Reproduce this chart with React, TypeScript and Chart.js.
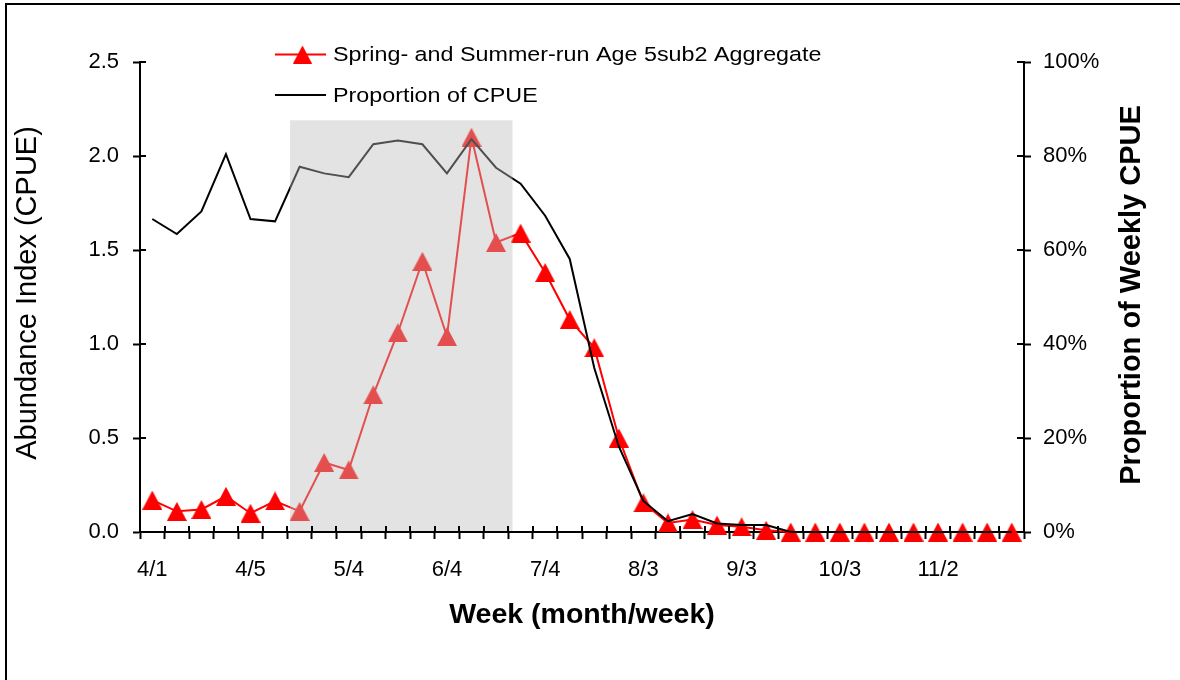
import React, { useEffect, useRef } from 'react';
import { Chart, registerables } from 'chart.js';

Chart.register(...registerables);

// ---- data ----
const weeks = [
  '4/1', '4/2', '4/3', '4/4', '4/5',
  '5/1', '5/2', '5/3', '5/4',
  '6/1', '6/2', '6/3', '6/4',
  '7/1', '7/2', '7/3', '7/4', '7/5',
  '8/1', '8/2', '8/3', '8/4',
  '9/1', '9/2', '9/3', '9/4',
  '10/1', '10/2', '10/3', '10/4', '10/5',
  '11/1', '11/2', '11/3', '11/4',
  '12/1',
];
const shownWeekLabels = ['4/1', '4/5', '5/4', '6/4', '7/4', '8/3', '9/3', '10/3', '11/2'];

const abundanceIndex = [
  0.17, 0.11, 0.12, 0.19, 0.1,
  0.165, 0.11, 0.37, 0.33,
  0.73, 1.06, 1.44, 1.04,
  2.1, 1.54, 1.59, 1.38, 1.13,
  0.98, 0.5, 0.155, 0.048,
  0.066, 0.037, 0.028, 0.009,
  0, 0, 0, 0, 0,
  0, 0, 0, 0,
  0,
];
const proportionOfCpue = [
  0.666, 0.634, 0.682, 0.804, 0.666,
  0.661, 0.777, 0.763, 0.755,
  0.825, 0.833, 0.825, 0.763,
  0.836, 0.775, 0.741, 0.673, 0.581,
  0.349, 0.182, 0.066, 0.023,
  0.038, 0.018, 0.015, 0.015,
  0, 0, 0, 0, 0,
  0, 0, 0, 0,
  0,
];
const abundanceTicks = [0, 0.5, 1.0, 1.5, 2.0, 2.5];
const proportionTicks = [0, 0.2, 0.4, 0.6, 0.8, 1.0];

const seriesNames = ['Spring- and Summer-run Age 5sub2 Aggregate', 'Proportion of CPUE'];
const axisTitles = {
  x: 'Week (month/week)',
  y: 'Abundance Index (CPUE)',
  y1: 'Proportion of Weekly CPUE',
};

// shaded period (in category-index units) and its top (abundance units)
const SHADE_FROM = 5.61;
const SHADE_TO = 14.67;
const SHADE_TOP = 2.19;

const FONT = '"Liberation Sans", Arial, Helvetica, sans-serif';
const W = 1180;
const H = 680;

function makeTriangle(w: number, h: number, color: string) {
  const c = document.createElement('canvas');
  c.width = w;
  c.height = h;
  const ctx = c.getContext('2d')!;
  ctx.fillStyle = color;
  ctx.beginPath();
  ctx.moveTo(w / 2, 0);
  ctx.lineTo(w, h);
  ctx.lineTo(0, h);
  ctx.closePath();
  ctx.fill();
  return c;
}

export default function App() {
  const ref = useRef<HTMLCanvasElement | null>(null);

  useEffect(() => {
    const canvas = ref.current;
    if (!canvas) return;
    const marker = makeTriangle(20, 19, '#ff0000');
    const legendMarker = makeTriangle(19, 18, '#ff0000');

    const decor = {
      id: 'decor',
      beforeDraw(chart: any) {
        const ctx = chart.ctx;
        ctx.save();
        ctx.fillStyle = '#ffffff';
        ctx.fillRect(0, 0, chart.width, chart.height);
        ctx.restore();
      },
      afterDatasetsDraw(chart: any) {
        const ctx = chart.ctx;
        const x = chart.scales.x;
        const y = chart.scales.y;
        const x0 = x.getPixelForValue(SHADE_FROM);
        const x1 = x.getPixelForValue(SHADE_TO);
        const yTop = y.getPixelForValue(SHADE_TOP);
        const yBot = y.getPixelForValue(0) - 1;
        ctx.save();
        ctx.fillStyle = 'rgba(189,189,189,0.42)';
        ctx.fillRect(x0, yTop, x1 - x0, yBot - yTop);
        ctx.restore();
      },
      afterDraw(chart: any) {
        const ctx = chart.ctx;
        const area = chart.chartArea;
        const sy = chart.scales.y;
        const sy1 = chart.scales.y1;
        ctx.save();
        // inward tick halves
        ctx.strokeStyle = '#000';
        ctx.lineWidth = 2;
        ctx.beginPath();
        const n = weeks.length;
        for (let i = 0; i <= n; i++) {
          const px = Math.round(area.left + (i * (area.right - area.left)) / n);
          ctx.moveTo(px, area.bottom);
          ctx.lineTo(px, area.bottom - 6);
        }
        abundanceTicks.forEach((v) => {
          const py = Math.round(sy.getPixelForValue(v));
          ctx.moveTo(area.left, py);
          ctx.lineTo(area.left + 6, py);
        });
        proportionTicks.forEach((v) => {
          const py = Math.round(sy1.getPixelForValue(v));
          ctx.moveTo(area.right, py);
          ctx.lineTo(area.right - 7, py);
        });
        ctx.stroke();

        // frame
        ctx.beginPath();
        ctx.moveTo(6, H);
        ctx.lineTo(6, 4);
        ctx.lineTo(W, 4);
        ctx.stroke();

        // legend
        ctx.lineWidth = 2;
        ctx.strokeStyle = '#ff0000';
        ctx.beginPath();
        ctx.moveTo(275, 54.5);
        ctx.lineTo(326, 54.5);
        ctx.stroke();
        ctx.drawImage(legendMarker, 302.5 - 9.5, 54.5 - 9);
        ctx.strokeStyle = '#000';
        ctx.beginPath();
        ctx.moveTo(275, 95);
        ctx.lineTo(326, 95);
        ctx.stroke();
        ctx.fillStyle = '#000';
        ctx.font = `20.5px ${FONT}`;
        ctx.textAlign = 'left';
        ctx.textBaseline = 'alphabetic';
        ctx.save();
        ctx.translate(333, 61);
        ctx.scale(1.137, 1);
        ctx.fillText(seriesNames[0], 0, 0);
        ctx.restore();
        ctx.save();
        ctx.translate(333, 101.5);
        ctx.scale(1.137, 1);
        ctx.fillText(seriesNames[1], 0, 0);
        ctx.restore();

        // axis titles
        ctx.font = `bold 28.5px ${FONT}`;
        ctx.textAlign = 'center';
        ctx.fillText(axisTitles.x, (area.left + area.right) / 2, 623);

        ctx.save();
        ctx.translate(36, 293);
        ctx.rotate(-Math.PI / 2);
        ctx.font = `29px ${FONT}`;
        ctx.fillText(axisTitles.y, 0, 0);
        ctx.restore();

        ctx.save();
        ctx.translate(1140, 295);
        ctx.rotate(-Math.PI / 2);
        ctx.font = `bold 29px ${FONT}`;
        ctx.fillText(axisTitles.y1, 0, 0);
        ctx.restore();

        ctx.restore();
      },
    };

    const chart = new Chart(canvas, {
      type: 'line',
      data: {
        labels: weeks,
        datasets: [
          {
            label: seriesNames[0],
            data: abundanceIndex,
            yAxisID: 'y',
            borderColor: '#ff0000',
            backgroundColor: '#ff0000',
            borderWidth: 2,
            pointStyle: marker as any,
            pointRadius: 10,
            tension: 0,
            clip: false as any,
            order: 1,
          },
          {
            label: seriesNames[1],
            data: proportionOfCpue,
            yAxisID: 'y1',
            borderColor: '#000000',
            borderWidth: 2,
            pointRadius: 0,
            tension: 0,
            clip: false as any,
            order: 0,
          },
        ],
      },
      options: {
        responsive: false,
        animation: false,
        devicePixelRatio: 1,
        layout: { padding: { top: 62, left: 0, right: 0, bottom: 0 } },
        plugins: {
          legend: { display: false },
          title: { display: false },
          tooltip: { enabled: false },
        },
        scales: {
          x: {
            type: 'category',
            offset: true,
            grid: {
              offset: true,
              drawOnChartArea: false,
              drawTicks: true,
              tickLength: 7,
              tickWidth: 2,
              tickColor: '#000',
            },
            border: { display: true, color: '#000', width: 2 },
            ticks: {
              autoSkip: false,
              maxRotation: 0,
              minRotation: 0,
              padding: 18,
              color: '#000',
              font: { family: FONT, size: 22 },
              callback: (_v: any, i: number) => (shownWeekLabels.includes(weeks[i]) ? weeks[i] : ''),
            },
            afterFit: (s: any) => {
              s.height = 148;
            },
          },
          y: {
            position: 'left',
            min: 0,
            max: 2.5,
            grid: {
              drawOnChartArea: false,
              drawTicks: true,
              tickLength: 7,
              tickWidth: 2,
              tickColor: '#000',
            },
            border: { display: true, color: '#000', width: 2 },
            ticks: {
              stepSize: 0.5,
              padding: 14,
              color: '#000',
              font: { family: FONT, size: 22 },
              callback: (v: any) => Number(v).toFixed(1),
            },
            afterFit: (s: any) => {
              s.width = 140;
            },
          },
          y1: {
            position: 'right',
            min: 0,
            max: 1,
            grid: {
              drawOnChartArea: false,
              drawTicks: true,
              tickLength: 7,
              tickWidth: 2,
              tickColor: '#000',
            },
            border: { display: true, color: '#000', width: 2 },
            ticks: {
              stepSize: 0.2,
              padding: 12,
              color: '#000',
              font: { family: FONT, size: 22 },
              callback: (v: any) => `${Math.round(Number(v) * 100)}%`,
            },
            afterFit: (s: any) => {
              s.width = 156;
            },
          },
        },
      },
      plugins: [decor],
    });

    return () => {
      chart.destroy();
    };
  }, []);

  return (
    <div style={{ position: 'absolute', left: 0, top: 0, width: W, height: H, background: '#fff' }}>
      <canvas ref={ref} width={W} height={H} style={{ display: 'block', width: W, height: H }} />
    </div>
  );
}
